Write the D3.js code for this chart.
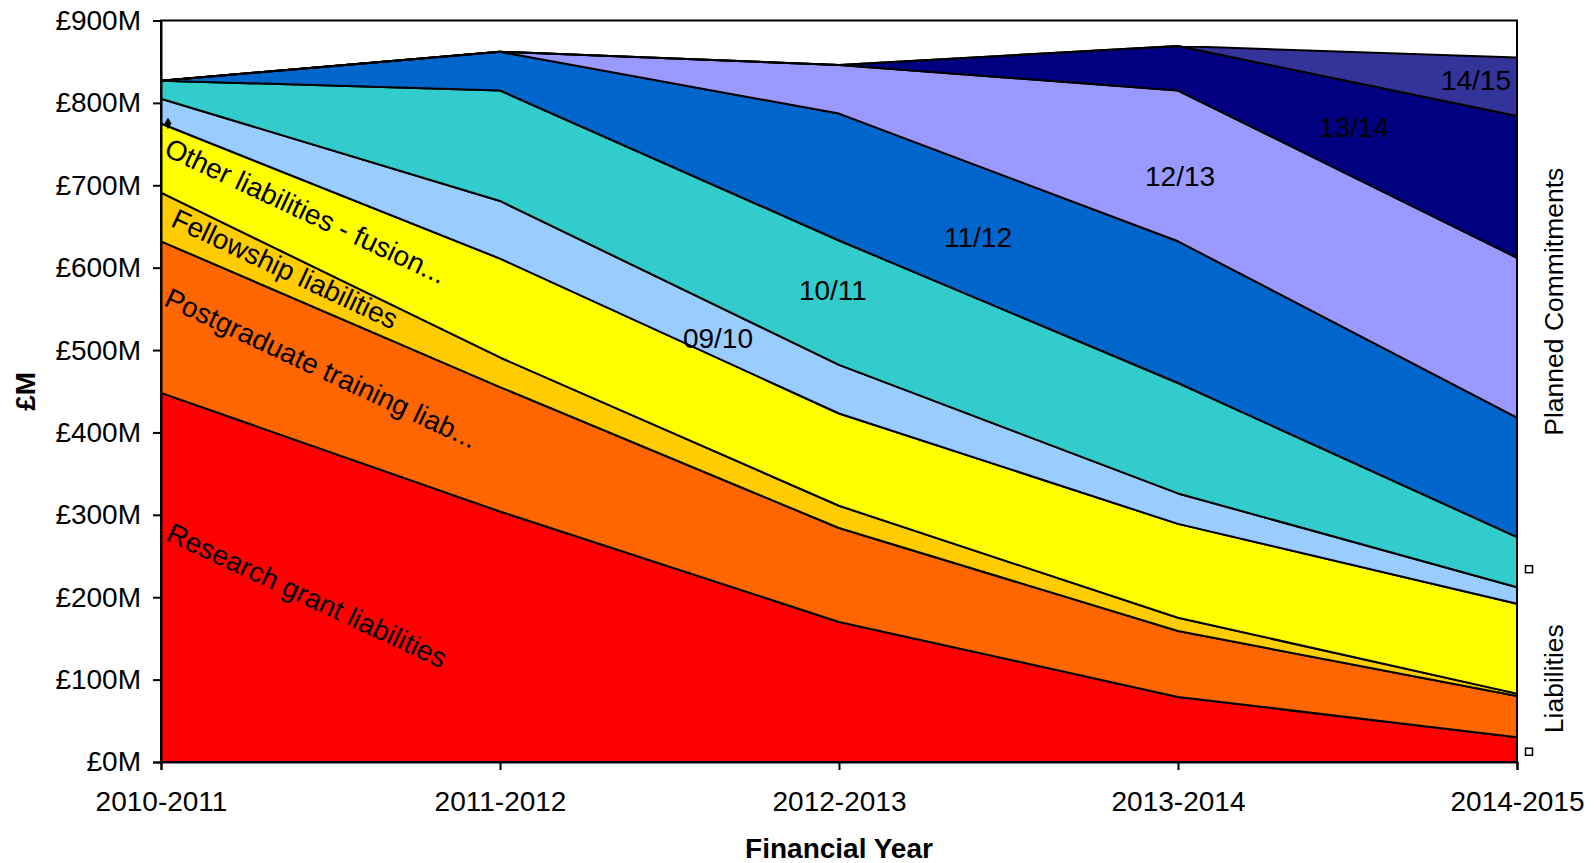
<!DOCTYPE html>
<html>
<head>
<meta charset="utf-8">
<script src="https://cdn.jsdelivr.net/npm/d3@7"></script>
<style>
  html, body { margin: 0; padding: 0; background: #ffffff; }
  svg { display: block; font-family: Arial, "Liberation Sans", sans-serif; }
</style>
</head>
<body>
<svg id="chart" width="1596" height="863"></svg>
<script>
// Financial years on the x axis
const years = ["2010-2011", "2011-2012", "2012-2013", "2013-2014", "2014-2015"];

// Liabilities (£M), bottom of the stack first
const researchGrant = [448, 304, 170, 79, 30];
const postgraduate  = [184, 151, 114, 80, 50];
const fellowship    = [59, 36, 27, 16, 3];
const otherFusion   = [84, 120, 112, 114, 109];

// Planned commitments by the year they were made (£M)
const commit0910 = [30, 70, 59, 37, 20];
const commit1011 = [22, 134, 151, 134, 61];
const commit1112 = [0, 47, 154, 172, 145];
const commit1213 = [0, 0, 59, 183, 194];
const commit1314 = [0, 0, 0, 54, 172];
const commit1415 = [0, 0, 0, 0, 71];

const seriesKeys = ["research", "postgrad", "fellowship", "other", "c0910", "c1011", "c1112", "c1213", "c1314", "c1415"];
const seriesValues = [researchGrant, postgraduate, fellowship, otherFusion,
                      commit0910, commit1011, commit1112, commit1213, commit1314, commit1415];
const seriesColors = ["#ff0000", "#ff6600", "#ffcc00", "#ffff00", "#99ccff",
                      "#33cccc", "#0066cc", "#9999ff", "#000080", "#333399"];

const yTickValues = [0, 100, 200, 300, 400, 500, 600, 700, 800, 900];

// Label placement: fractional year index and value on the £M scale
const slantedLabels = [
  { text: "Other liabilities - fusion...", xi: 0.030, v: 759 },
  { text: "Fellowship liabilities",        xi: 0.050, v: 673 },
  { text: "Postgraduate training liab...", xi: 0.030, v: 577 },
  { text: "Research grant liabilities",    xi: 0.036, v: 292 }
];
const yearLabels = [
  { text: "09/10", xi: 1.643, v: 515 },
  { text: "10/11", xi: 1.982, v: 573 },
  { text: "11/12", xi: 2.410, v: 637 },
  { text: "12/13", xi: 3.006, v: 711 },
  { text: "13/14", xi: 3.519, v: 771 },
  { text: "14/15", xi: 3.879, v: 828 }
];

// ---- layout ----
const plot = { left: 161, right: 1517, top: 20.5, bottom: 762 };
const svg = d3.select("#chart");

const x = d3.scalePoint().domain(years).range([plot.left, plot.right]);
const xIdx = d3.scaleLinear().domain([0, years.length - 1]).range([plot.left, plot.right]);
const y = d3.scaleLinear().domain([0, 900]).range([plot.bottom, plot.top]);

// rows for the stack
const rows = years.map((yr, i) => {
  const r = { year: yr };
  seriesKeys.forEach((k, j) => { r[k] = seriesValues[j][i]; });
  return r;
});
const stacked = d3.stack().keys(seriesKeys)(rows);

// plot background
svg.append("rect")
  .attr("x", plot.left).attr("y", plot.top)
  .attr("width", plot.right - plot.left).attr("height", plot.bottom - plot.top)
  .attr("fill", "#ffffff");

const area = d3.area()
  .x(d => x(d.data.year))
  .y0(d => y(d[0]))
  .y1(d => y(d[1]))
  .curve(d3.curveLinear);

svg.append("g").selectAll("path")
  .data(stacked)
  .join("path")
  .attr("d", area)
  .attr("fill", (d, i) => seriesColors[i])
  .attr("stroke", "#000")
  .attr("stroke-width", 2)
  .attr("stroke-linejoin", "round");

// small marker on the top of the "Other liabilities" band at the first year
const otherLayer = stacked[3];
svg.append("path")
  .attr("d", d3.symbol(d3.symbolDiamond, 40)())
  .attr("transform", `translate(${x(years[0]) + 7},${y(otherLayer[0][1])})`)
  .attr("fill", "#000");

// plot frame
svg.append("rect")
  .attr("x", plot.left).attr("y", plot.top)
  .attr("width", plot.right - plot.left).attr("height", plot.bottom - plot.top)
  .attr("fill", "none").attr("stroke", "#000").attr("stroke-width", 2);

// y axis
const yAxis = d3.axisLeft(y).tickValues(yTickValues).tickFormat(d => "£" + d + "M")
  .tickSize(8).tickPadding(12);
const gy = svg.append("g").attr("transform", `translate(${plot.left},0)`).call(yAxis);
gy.select(".domain").attr("stroke", "#000").attr("stroke-width", 2);
gy.selectAll(".tick line").attr("stroke", "#000").attr("stroke-width", 2);
gy.selectAll(".tick text").attr("font-size", 28).attr("fill", "#000")
  .attr("font-family", "Arial, 'Liberation Sans', sans-serif");

// x axis
const xAxis = d3.axisBottom(x).tickSize(8).tickPadding(21);
const gx = svg.append("g").attr("transform", `translate(0,${plot.bottom})`).call(xAxis);
gx.select(".domain").attr("stroke", "#000").attr("stroke-width", 2);
gx.selectAll(".tick line").attr("stroke", "#000").attr("stroke-width", 2);
gx.selectAll(".tick text").attr("font-size", 28).attr("fill", "#000")
  .attr("font-family", "Arial, 'Liberation Sans', sans-serif");

// axis titles
svg.append("text")
  .attr("x", (plot.left + plot.right) / 2).attr("y", 858)
  .attr("text-anchor", "middle")
  .attr("font-size", 28).attr("font-weight", "bold")
  .text("Financial Year");

svg.append("text")
  .attr("transform", `translate(35,${(plot.top + plot.bottom) / 2}) rotate(-90)`)
  .attr("text-anchor", "middle")
  .attr("font-size", 28).attr("font-weight", "bold")
  .text("£M");

// slanted series labels
svg.append("g").selectAll("text")
  .data(slantedLabels)
  .join("text")
  .attr("transform", d => `translate(${xIdx(d.xi)},${y(d.v)}) rotate(25)`)
  .attr("dy", "0.72em")
  .attr("font-size", 28)
  .attr("fill", "#000")
  .text(d => d.text);

// commitment-year labels
svg.append("g").selectAll("text")
  .data(yearLabels)
  .join("text")
  .attr("x", d => xIdx(d.xi))
  .attr("y", d => y(d.v))
  .attr("dy", "0.36em")
  .attr("text-anchor", "middle")
  .attr("font-size", 28)
  .attr("fill", "#000")
  .text(d => d.text);

// right-hand group legend
const groupLegend = [
  { text: "Planned Commitments", v: 234, tv: 396 },
  { text: "Liabilities", v: 12.5, tv: 35 }
];
svg.append("g").selectAll("rect")
  .data(groupLegend)
  .join("rect")
  .attr("x", plot.right + 8.5).attr("y", d => y(d.v) - 3.5)
  .attr("width", 7).attr("height", 7)
  .attr("fill", "#fff").attr("stroke", "#000").attr("stroke-width", 1.5);
svg.append("g").selectAll("text")
  .data(groupLegend)
  .join("text")
  .attr("transform", d => `translate(${plot.right + 46},${y(d.tv)}) rotate(-90)`)
  .attr("font-size", 26.5)
  .attr("fill", "#000")
  .text(d => d.text);
</script>
</body>
</html>
